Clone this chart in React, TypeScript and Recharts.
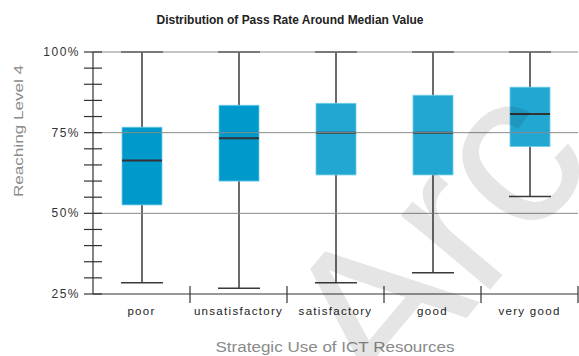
import {
  ComposedChart, Bar, XAxis, YAxis, ReferenceLine,
} from "recharts";

const categories = ["poor", "unsatisfactory", "satisfactory", "good", "very good"];
const mins = [28.5, 26.8, 28.5, 31.6, 55.2];
const q1s = [52.6, 60.0, 61.9, 61.9, 70.7];
const medians = [66.4, 73.3, 75.0, 75.0, 80.8];
const q3s = [76.7, 83.5, 84.1, 86.6, 89.1];
const maxs = [100, 100, 100, 100, 100];
const boxColors = ["#0099cc", "#0099cc", "#22a7d3", "#22a7d3", "#22a7d3"];

const yTicks = [25, 30, 35, 40, 45, 50, 55, 60, 65, 70, 75, 80, 85, 90, 95, 100];
const yMajor = [25, 50, 75, 100];
const gridValues = [50, 75, 100];

const FONT = "'Liberation Sans', Arial, sans-serif";

const data = categories.map((name, i) => ({
  name,
  range: [mins[i], maxs[i]],
  q1: q1s[i],
  median: medians[i],
  q3: q3s[i],
  color: boxColors[i],
}));

// draws whisker + box + median; pixel scale is taken from the bar's own min..max span
function BoxShape(props: any) {
  const { x, y, width, height, payload } = props;
  const [lo, hi] = payload.range;
  const top = Math.min(y, y + height);
  const k = Math.abs(height) / (hi - lo);
  const py = (v: number) => top + (hi - v) * k;
  const cx = x + width / 2;
  const half = width / 2;
  return (
    <g>
      <line x1={cx} x2={cx} y1={py(hi)} y2={py(lo)} stroke="#3a3a3a" strokeWidth={1.5} />
      <line x1={cx - half} x2={cx + half} y1={py(hi)} y2={py(hi)} stroke="#3a3a3a" strokeWidth={1.5} />
      <line x1={cx - half} x2={cx + half} y1={py(lo)} y2={py(lo)} stroke="#3a3a3a" strokeWidth={1.5} />
      <rect
        x={cx - 20} y={py(payload.q3)} width={40} height={py(payload.q1) - py(payload.q3)}
        fill={payload.color} stroke="#6fcdee" strokeWidth={0.8}
      />
      <line x1={cx - 20} x2={cx + 20} y1={py(payload.median)} y2={py(payload.median)} stroke="#333" strokeWidth={2} />
    </g>
  );
}

function YTick({ x, y, payload }: any) {
  const ax = x + 13;
  const major = yMajor.includes(payload.value);
  return (
    <g>
      <line x1={ax - 9} x2={ax + 9} y1={y} y2={y} stroke="#333" strokeWidth={1.2} />
      {major && (
        <text x={x} y={y + 4} textAnchor="end" fontSize={12} fill="#333"
          fontFamily={FONT} letterSpacing={1.5}>
          {payload.value}%
        </text>
      )}
    </g>
  );
}

function XTick({ x, y, payload, width, visibleTicksCount }: any) {
  const off = payload.offset || (width && visibleTicksCount ? width / visibleTicksCount / 2 : 48.5);
  const ay = y - 12;
  return (
    <g>
      <line x1={x + off} x2={x + off} y1={ay - 8} y2={ay + 9} stroke="#333" strokeWidth={1.2} />
      <text x={x} y={y + 9} textAnchor="middle" fontSize={11.5} fill="#222"
        fontFamily={FONT} letterSpacing={1.3}>
        {payload.value}
      </text>
    </g>
  );
}

export default function App() {
  return (
    <div style={{ position: "absolute", left: 0, top: 0, width: 579, height: 356, background: "#fff", overflow: "hidden" }}>
      <ComposedChart
        width={579} height={356} data={data}
        margin={{ top: 52, right: 1, bottom: 32, left: 33 }}
      >
        {gridValues.map((v) => (
          <ReferenceLine key={v} y={v} stroke="#8a8a8a" strokeWidth={1} />
        ))}
        <XAxis
          dataKey="name" height={30} tickSize={0} tickMargin={12}
          axisLine={{ stroke: "#333", strokeWidth: 1.2 }} tickLine={false}
          tick={<XTick />} interval={0}
        />
        <YAxis
          type="number" domain={[25, 100]} ticks={yTicks} width={60}
          tickSize={0} tickMargin={13} interval={0}
          axisLine={{ stroke: "#333", strokeWidth: 1.2 }} tickLine={false}
          tick={<YTick />}
        />
        <Bar dataKey="range" barSize={42} shape={<BoxShape />} isAnimationActive={false} />
      </ComposedChart>
      <svg width={579} height={356} style={{ position: "absolute", left: 0, top: 0, pointerEvents: "none" }}>
        <text x={290} y={24} textAnchor="middle" fontSize={13} fontWeight="bold" fill="#222"
          fontFamily={FONT} textLength={267} lengthAdjust="spacingAndGlyphs">
          Distribution of Pass Rate Around Median Value
        </text>
        <text x={335} y={352} textAnchor="middle" fontSize={14} fill="#8a8a8a"
          fontFamily={FONT} textLength={239} lengthAdjust="spacingAndGlyphs">
          Strategic Use of ICT Resources
        </text>
        <text x={0} y={0} transform="translate(23,131) rotate(-90)" textAnchor="middle" fontSize={13} fill="#8a8a8a"
          fontFamily={FONT} textLength={132} lengthAdjust="spacingAndGlyphs">
          Reaching Level 4
        </text>
        <text x={0} y={0} transform="translate(386,414) rotate(-50)" fontSize={220} fill="#000" fillOpacity={0.1}
          fontFamily={FONT}>
          Arc
        </text>
      </svg>
    </div>
  );
}
